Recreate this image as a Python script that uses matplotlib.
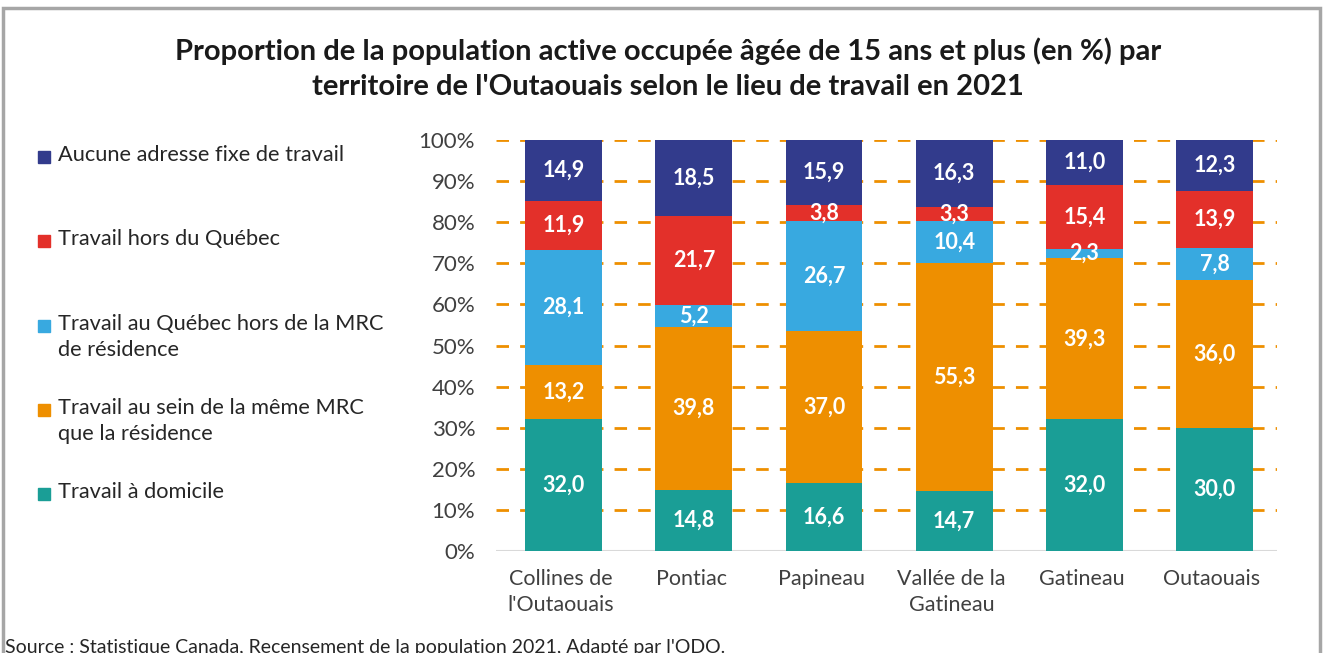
import numpy as np
import matplotlib
matplotlib.use("Agg")
import matplotlib.pyplot as plt
from matplotlib.patches import Rectangle

plt.rcParams["font.family"] = ["Lato", "DejaVu Sans"]

territoires = ["Collines de\nl'Outaouais", "Pontiac", "Papineau",
               "Vallée de la\nGatineau", "Gatineau", "Outaouais"]

# bottom to top
domicile = [32.0, 14.8, 16.6, 14.7, 32.0, 30.0]
meme_mrc = [13.2, 39.8, 37.0, 55.3, 39.3, 36.0]
hors_mrc = [28.1, 5.2, 26.7, 10.4, 2.3, 7.8]
hors_qc = [11.9, 21.7, 3.8, 3.3, 15.4, 13.9]
aucune = [14.9, 18.5, 15.9, 16.3, 11.0, 12.3]

series = [domicile, meme_mrc, hors_mrc, hors_qc, aucune]
noms = ["Travail à domicile",
        "Travail au sein de la même MRC\nque la résidence",
        "Travail au Québec hors de la MRC\nde résidence",
        "Travail hors du Québec",
        "Aucune adresse fixe de travail"]
couleurs = ["#1A9E96", "#EE8F00", "#38A9E0", "#E3302A", "#323B8C"]

fig = plt.figure(figsize=(13.24, 6.53), dpi=100)
ax = fig.add_axes([496 / 1324, 1 - 551 / 653, (1277 - 496) / 1324, (551 - 140) / 653])

x = np.arange(len(territoires))
bas = np.zeros(len(territoires))
for vals, nom, c in zip(series, noms, couleurs):
    vals = np.array(vals)
    ax.bar(x + 0.02, vals, 0.59, bottom=bas, color=c, zorder=3)
    for xi, b, v in zip(x, bas, vals):
        ax.text(xi + 0.02, b + v / 2, f"{v:.1f}".replace(".", ","), ha="center", va="center",
                color="white", fontsize=15.5, fontweight="bold", zorder=4)
    bas += vals

for yv in range(10, 101, 10):
    ax.axhline(yv, color="#EE8F00", lw=2, ls=(0, (4.5, 4)), zorder=1)
ax.axhline(0, color="#D9D9D9", lw=1.5, zorder=2)

ax.set_xlim(-0.5, 5.5)
ax.set_ylim(0, 100)
ax.set_yticks(range(0, 101, 10))
ax.set_yticklabels([f"{v}%" for v in range(0, 101, 10)])
ax.set_xticks(x)
ax.set_xticklabels(territoires, linespacing=1.35)
ax.tick_params(length=0, labelsize=15.5, colors="#404040")
ax.tick_params(axis="x", pad=13)
ax.tick_params(axis="y", pad=15, labelsize=16)
for s in ax.spines.values():
    s.set_visible(False)

fig.text(0.5045, 1 - 68.5 / 653, "Proportion de la population active occupée âgée de 15 ans et plus (en %) par\n"
         "territoire de l'Outaouais selon le lieu de travail en 2021",
         ha="center", va="center", fontsize=21, fontweight="bold", color="#1a1a1a", linespacing=1.45)

# legend, top to bottom
leg_y = [157, 241, 326, 410, 494]
for yy, nom, c in zip(leg_y, noms[::-1], couleurs[::-1]):
    fy = 1 - yy / 653
    fig.patches.append(Rectangle((38 / 1324, fy - 6 / 653), 12 / 1324, 12 / 653,
                                 transform=fig.transFigure, color=c))
    fig.text(58 / 1324, fy + 12 / 653, nom, ha="left", va="top", fontsize=15.7,
             color="#262626", linespacing=1.4)

fig.text(5 / 1324, 6 / 653, "Source : Statistique Canada, Recensement de la population 2021, Adapté par l'ODO.",
         ha="left", va="center", fontsize=14, color="#262626")

fig.patches.append(Rectangle((3 / 1324, -0.1), 1317 / 1324, 1.1 - 8 / 653, transform=fig.transFigure,
                             fill=False, ec="#A6A6A6", lw=2.5))

fig.savefig("out.png", dpi=100)
